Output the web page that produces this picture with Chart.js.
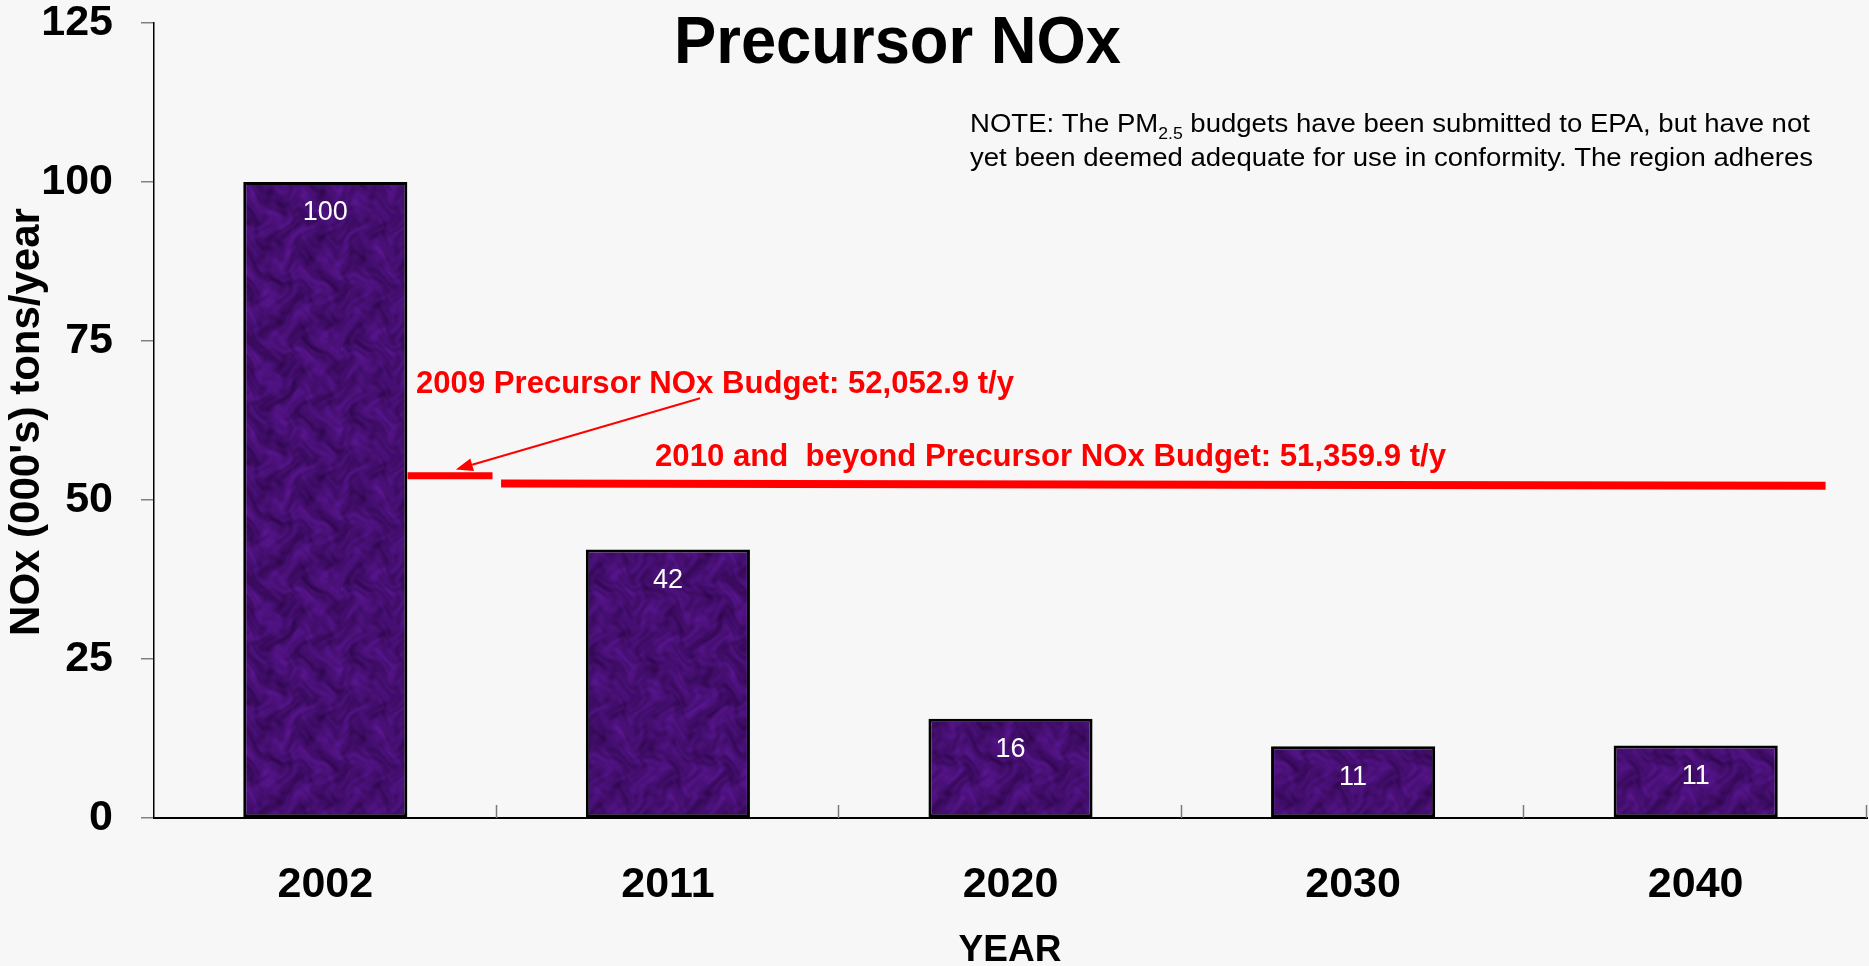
<!DOCTYPE html>
<html>
<head>
<meta charset="utf-8">
<script src="https://cdn.jsdelivr.net/npm/chart.js@4.4.1/dist/chart.umd.min.js"></script>
<style>
  html, body { margin: 0; padding: 0; background: #f7f7f7; }
  #wrap { width: 1869px; height: 966px; position: relative; }
  canvas { display: block; }
</style>
</head>
<body>
<div id="wrap"><canvas id="c" width="1869" height="966"></canvas></div>
<script>
// ---------- data ----------
const categories = ['2002', '2011', '2020', '2030', '2040'];
const noxValues = [100, 42.2, 15.6, 11.3, 11.4];
const yTickValues = [0, 25, 50, 75, 100, 125];
const budget2009Level = [53.8, 53.8];     // as drawn (start, end)
const budget2010Level = [52.6, 52.25];    // as drawn (start, end)
const budgetLabels = ['2009 Precursor NOx Budget: 52,052.9 t/y',
                      '2010 and  beyond Precursor NOx Budget: 51,359.9 t/y'];
const chartTitle = 'Precursor NOx';
const yAxisTitle = "NOx (000's) tons/year";
const xAxisTitle = 'YEAR';
const noteLine1 = ['NOTE: The PM', '2.5', ' budgets have been submitted to EPA, but have not'];
const noteLine2 = 'yet been deemed adequate for use in conformity. The region adheres';

// ---------- layout (category-index / pixel placement, not data) ----------
const FONT = '"Liberation Sans", Arial, Helvetica, sans-serif';
const span2009 = [0.24, 0.488];
const span2010 = [0.513, 4.379];
const arrowFrom = [1.094, 66.0];
const arrowTo = [0.381, 54.8];

function makeTexture() {
  const n = 240;
  const c = document.createElement('canvas');
  c.width = n; c.height = n;
  const g = c.getContext('2d');
  const img = g.createImageData(n, n);
  const T = 2 * Math.PI / n;
  for (let y = 0; y < n; y++) {
    for (let x = 0; x < n; x++) {
      const wx = x + 9 * Math.sin(T * 3 * y + 0.7) + 5 * Math.sin(T * 7 * y + 2.1);
      const wy = y + 8 * Math.sin(T * 4 * x + 1.3) + 4 * Math.sin(T * 9 * x + 0.2);
      let t = 0.5
        + 0.14 * Math.sin(T * 5 * wx + 1.7 * Math.sin(T * 3 * wy))
        + 0.12 * Math.sin(T * 6 * wy + 1.4 * Math.sin(T * 4 * wx + 1))
        + 0.08 * Math.sin(T * (13 * wx + 8 * wy) + 0.4)
        + 0.07 * Math.sin(T * (11 * wx - 14 * wy) + 2.3)
        + 0.06 * Math.sin(T * (23 * wx + 5 * wy) + 1.1)
        + 0.05 * Math.sin(T * (6 * wx - 27 * wy) + 0.6);
      const vein = Math.abs(Math.sin(T * (17 * wx + 12 * wy) + 3 * Math.sin(T * 5 * wy)));
      t += vein < 0.08 ? 0.12 : 0;
      t = Math.max(0, Math.min(1, t));
      const i = (y * n + x) * 4;
      img.data[i] = 46 + 44 * t;
      img.data[i + 1] = 6 + 16 * t;
      img.data[i + 2] = 76 + 70 * t;
      img.data[i + 3] = 255;
    }
  }
  g.putImageData(img, 0, 0);
  return g.createPattern(c, 'repeat');
}

function fitText(ctx, text, x, y, width, align) {
  const w = ctx.measureText(text).width;
  const s = width / w;
  ctx.save();
  ctx.translate(x, y);
  ctx.scale(s, 1);
  ctx.textAlign = 'left';
  ctx.fillText(text, align === 'center' ? -w / 2 : 0, 0);
  ctx.restore();
}

const decorPlugin = {
  id: 'decor',
  afterDatasetsDraw(chart) {
    const ctx = chart.ctx;
    const xs = chart.scales.x, ys = chart.scales.y;
    const area = chart.chartArea;

    // inward x tick marks at category boundaries
    ctx.save();
    ctx.strokeStyle = '#7a7a7a';
    ctx.lineWidth = 1.5;
    for (let i = 0; i < categories.length; i++) {
      const px = Math.round(xs.getPixelForValue(i + 0.5)) - 0.5;
      ctx.beginPath();
      ctx.moveTo(px, area.bottom);
      ctx.lineTo(px, area.bottom - 13);
      ctx.stroke();
    }
    ctx.restore();

    // bar value labels
    const meta = chart.getDatasetMeta(0);
    ctx.save();
    ctx.fillStyle = '#ffffff';
    ctx.font = '27px ' + FONT;
    ctx.textAlign = 'center';
    ctx.textBaseline = 'middle';
    meta.data.forEach((bar, i) => {
      ctx.fillText(String(Math.round(noxValues[i])), bar.x, bar.y + 31);
    });
    ctx.restore();

    // budget lines
    ctx.save();
    ctx.strokeStyle = '#ff0000';
    ctx.lineCap = 'butt';
    ctx.lineWidth = 7;
    ctx.beginPath();
    ctx.moveTo(xs.getPixelForValue(span2009[0]), ys.getPixelForValue(budget2009Level[0]));
    ctx.lineTo(xs.getPixelForValue(span2009[1]), ys.getPixelForValue(budget2009Level[1]));
    ctx.stroke();
    ctx.lineWidth = 8;
    ctx.beginPath();
    ctx.moveTo(xs.getPixelForValue(span2010[0]), ys.getPixelForValue(budget2010Level[0]));
    ctx.lineTo(xs.getPixelForValue(span2010[1]), ys.getPixelForValue(budget2010Level[1]));
    ctx.stroke();

    // arrow
    const ax0 = xs.getPixelForValue(arrowFrom[0]), ay0 = ys.getPixelForValue(arrowFrom[1]);
    const ax1 = xs.getPixelForValue(arrowTo[0]), ay1 = ys.getPixelForValue(arrowTo[1]);
    const ang = Math.atan2(ay1 - ay0, ax1 - ax0);
    const hl = 17, hw = 6.5;
    const bx = ax1 - hl * Math.cos(ang), by = ay1 - hl * Math.sin(ang);
    ctx.lineWidth = 2;
    ctx.beginPath();
    ctx.moveTo(ax0, ay0);
    ctx.lineTo(bx, by);
    ctx.stroke();
    ctx.fillStyle = '#ff0000';
    ctx.beginPath();
    ctx.moveTo(ax1, ay1);
    ctx.lineTo(bx + hw * Math.sin(ang), by - hw * Math.cos(ang));
    ctx.lineTo(bx - hw * Math.sin(ang), by + hw * Math.cos(ang));
    ctx.closePath();
    ctx.fill();

    // budget labels
    ctx.font = 'bold 31px ' + FONT;
    ctx.textBaseline = 'alphabetic';
    fitText(ctx, budgetLabels[0], 416, 393, 598, 'left');
    fitText(ctx, budgetLabels[1], 655, 466, 791, 'left');
    ctx.restore();
  },
  afterDraw(chart) {
    const ctx = chart.ctx;
    ctx.save();
    ctx.fillStyle = '#000000';
    ctx.textBaseline = 'alphabetic';

    // title
    ctx.font = 'bold 67px ' + FONT;
    fitText(ctx, chartTitle, 897.5, 63, 447, 'center');

    // note
    ctx.font = '25px ' + FONT;
    const w2 = ctx.measureText(noteLine2).width;
    const s = 843 / w2;
    ctx.save();
    ctx.translate(970, 0);
    ctx.scale(s, 1);
    ctx.textAlign = 'left';
    ctx.fillText(noteLine2, 0, 166);
    let cx = 0;
    ctx.fillText(noteLine1[0], cx, 132);
    cx += ctx.measureText(noteLine1[0]).width;
    ctx.font = '16px ' + FONT;
    ctx.fillText(noteLine1[1], cx, 139);
    cx += ctx.measureText(noteLine1[1]).width;
    ctx.font = '25px ' + FONT;
    ctx.fillText(noteLine1[2], cx, 132);
    ctx.restore();

    // x axis title
    ctx.font = 'bold 37px ' + FONT;
    ctx.textAlign = 'center';
    ctx.fillText(xAxisTitle, 1010, 961);

    // y axis title (rotated)
    ctx.save();
    ctx.translate(39, 422);
    ctx.rotate(-Math.PI / 2);
    ctx.font = 'bold 42px ' + FONT;
    ctx.textAlign = 'center';
    ctx.fillText(yAxisTitle, 0, 0);
    ctx.restore();

    ctx.restore();
  }
};

const ctx = document.getElementById('c').getContext('2d');
const texture = makeTexture();

new Chart(ctx, {
  type: 'bar',
  data: {
    labels: categories,
    datasets: [{
      data: noxValues,
      backgroundColor: texture,
      borderColor: '#000000',
      borderWidth: 3,
      borderSkipped: false,
      categoryPercentage: 1.0,
      barPercentage: 0.479
    }]
  },
  options: {
    responsive: false,
    animation: false,
    devicePixelRatio: 1,
    layout: { padding: { top: 0, right: 2, left: 0, bottom: 0 } },
    plugins: {
      legend: { display: false },
      tooltip: { enabled: false },
      title: { display: false }
    },
    scales: {
      x: {
        type: 'category',
        offset: true,
        grid: { display: false, drawTicks: false },
        border: { display: true, color: '#000000', width: 2 },
        ticks: {
          color: '#000000',
          font: { family: FONT, size: 43, weight: 'bold', lineHeight: 1 },
          padding: 46,
          maxRotation: 0
        },
        afterFit(scale) {
          scale.height = 148;
          scale.paddingLeft = 0; scale.paddingRight = 0;
        }
      },
      y: {
        min: 0,
        max: 125,
        afterBuildTicks(scale) { scale.ticks = yTickValues.map(v => ({ value: v })); },
        grid: { display: true, drawOnChartArea: false, drawTicks: true, tickLength: 13, color: '#808080', lineWidth: 1.5 },
        border: { display: true, color: '#000000', width: 1.5 },
        ticks: {
          color: '#000000',
          font: { family: FONT, size: 43, weight: 'bold', lineHeight: 1 },
          padding: 28
        },
        afterFit(scale) {
          scale.width = 154;
          scale.paddingTop = 23; scale.paddingBottom = 0;
        }
      }
    }
  },
  plugins: [decorPlugin]
});
</script>
</body>
</html>
